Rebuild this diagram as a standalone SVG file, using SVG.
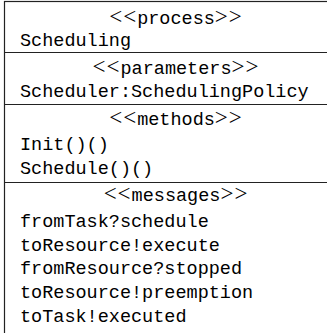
<svg xmlns="http://www.w3.org/2000/svg" width="327" height="333" viewBox="0 0 327 333">
<style>
.t{font-family:"Liberation Mono","DejaVu Sans Mono",monospace;font-size:18.5px;fill:#000}
.h{text-anchor:middle}
.m{font-family:"Liberation Serif","DejaVu Serif",serif;font-size:23px;letter-spacing:1px}
.ln{stroke:#222;stroke-width:1.2;fill:none}
</style>
<rect width="327" height="333" fill="#fff"/>
<g id="process-box">
<rect class="ln" x="4.5" y="1.5" width="342" height="340"/>
<line class="ln" x1="4.5" y1="52.5" x2="346.5" y2="52.5"/>
<line class="ln" x1="4.5" y1="104.5" x2="346.5" y2="104.5"/>
<line class="ln" x1="4.5" y1="182.5" x2="346.5" y2="182.5"/>
</g>
<g id="section-process">
<text class="t h" x="176" y="24"><tspan class="m">&lt;&lt;</tspan>process<tspan class="m">&gt;&gt;</tspan></text>
<text class="t" x="20" y="46">Scheduling</text>
</g>
<g id="section-parameters">
<text class="t h" x="176" y="74"><tspan class="m">&lt;&lt;</tspan>parameters<tspan class="m">&gt;&gt;</tspan></text>
<text class="t" x="20" y="97">Scheduler:SchedulingPolicy</text>
</g>
<g id="section-methods">
<text class="t h" x="176" y="125"><tspan class="m">&lt;&lt;</tspan>methods<tspan class="m">&gt;&gt;</tspan></text>
<text class="t" x="20" y="150">Init()()</text>
<text class="t" x="20" y="174">Schedule()()</text>
</g>
<g id="section-messages">
<text class="t h" x="176" y="201"><tspan class="m">&lt;&lt;</tspan>messages<tspan class="m">&gt;&gt;</tspan></text>
<text class="t" x="20" y="227">fromTask?schedule</text>
<text class="t" x="20" y="251">toResource!execute</text>
<text class="t" x="20" y="274">fromResource?stopped</text>
<text class="t" x="20" y="298">toResource!preemption</text>
<text class="t" x="20" y="322">toTask!executed</text>
</g>
</svg>
